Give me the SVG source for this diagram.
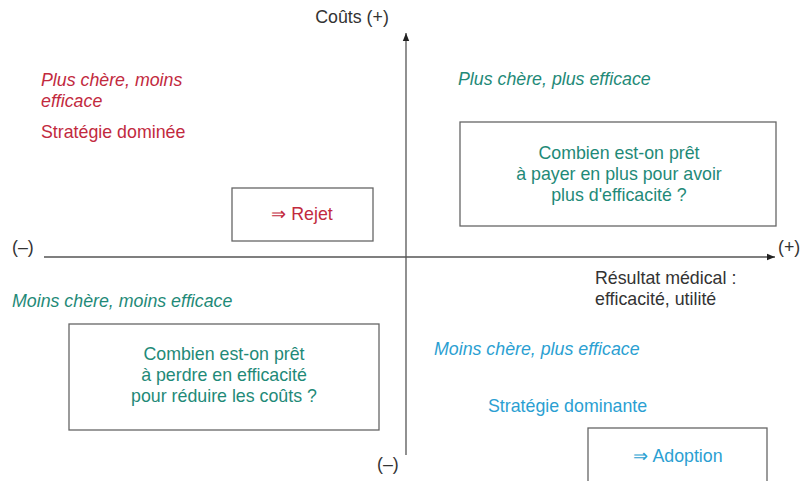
<svg xmlns="http://www.w3.org/2000/svg" width="800" height="481" viewBox="0 0 800 481">
<style>
text{font-family:"Liberation Sans",Arial,sans-serif;font-size:17.8px}
.blk{fill:#333}
.red{fill:#c22a3e}
.teal{fill:#1f8a78}
.blue{fill:#2b9fd2}
.it{font-style:italic}
.mid{text-anchor:middle}
.box{fill:#fff;stroke:#666;stroke-width:1.3}
.axis{stroke:#555;stroke-width:1.3;fill:none}
</style>
<defs>
<marker id="ah" viewBox="0 0 10 10" refX="10" refY="5" markerWidth="8" markerHeight="8" markerUnits="userSpaceOnUse" orient="auto">
<path d="M0,1 L10,5 L0,9 z" fill="#222"/>
</marker>
</defs>
<rect width="800" height="481" fill="#fff"/>
<g id="connectors">
<line class="axis" x1="406" y1="455" x2="406" y2="33" marker-end="url(#ah)"/>
<line class="axis" x1="44" y1="257" x2="775" y2="257" marker-end="url(#ah)"/>
</g>
<g id="axis-labels">
<text class="blk mid" x="352" y="23">Coûts (+)</text>
<text class="blk" x="12" y="253">(–)</text>
<text class="blk" x="778" y="253">(+)</text>
<text class="blk" x="377" y="470">(–)</text>
<text class="blk" x="595" y="284">Résultat médical :</text>
<text class="blk" x="595" y="305">efficacité, utilité</text>
</g>
<g id="q-top-left">
<text class="red it" x="41" y="86">Plus chère, moins</text>
<text class="red it" x="41" y="107">efficace</text>
<text class="red" x="41" y="138">Stratégie dominée</text>
</g>
<g id="rejet">
<rect class="box" x="232" y="188" width="141" height="53"/>
<text class="red mid" x="302" y="220">⇒ Rejet</text>
</g>
<g id="q-top-right">
<text class="teal it" x="458" y="85">Plus chère, plus efficace</text>
</g>
<g id="box-top-right">
<rect class="box" x="460" y="122" width="316" height="104"/>
<text class="teal mid" x="619" y="159">Combien est-on prêt</text>
<text class="teal mid" x="619" y="180">à payer en plus pour avoir</text>
<text class="teal mid" x="619" y="201">plus d'efficacité ?</text>
</g>
<g id="q-bottom-left">
<text class="teal it" x="12" y="307">Moins chère, moins efficace</text>
</g>
<g id="box-bottom-left">
<rect class="box" x="69" y="324" width="310" height="106"/>
<text class="teal mid" x="224" y="360">Combien est-on prêt</text>
<text class="teal mid" x="224" y="381">à perdre en efficacité</text>
<text class="teal mid" x="224" y="402">pour réduire les coûts ?</text>
</g>
<g id="q-bottom-right">
<text class="blue it" x="434" y="355">Moins chère, plus efficace</text>
<text class="blue" x="488" y="412">Stratégie dominante</text>
</g>
<g id="adoption">
<rect class="box" x="588" y="428" width="179" height="60"/>
<text class="blue mid" x="678" y="462">⇒ Adoption</text>
</g>
</svg>
